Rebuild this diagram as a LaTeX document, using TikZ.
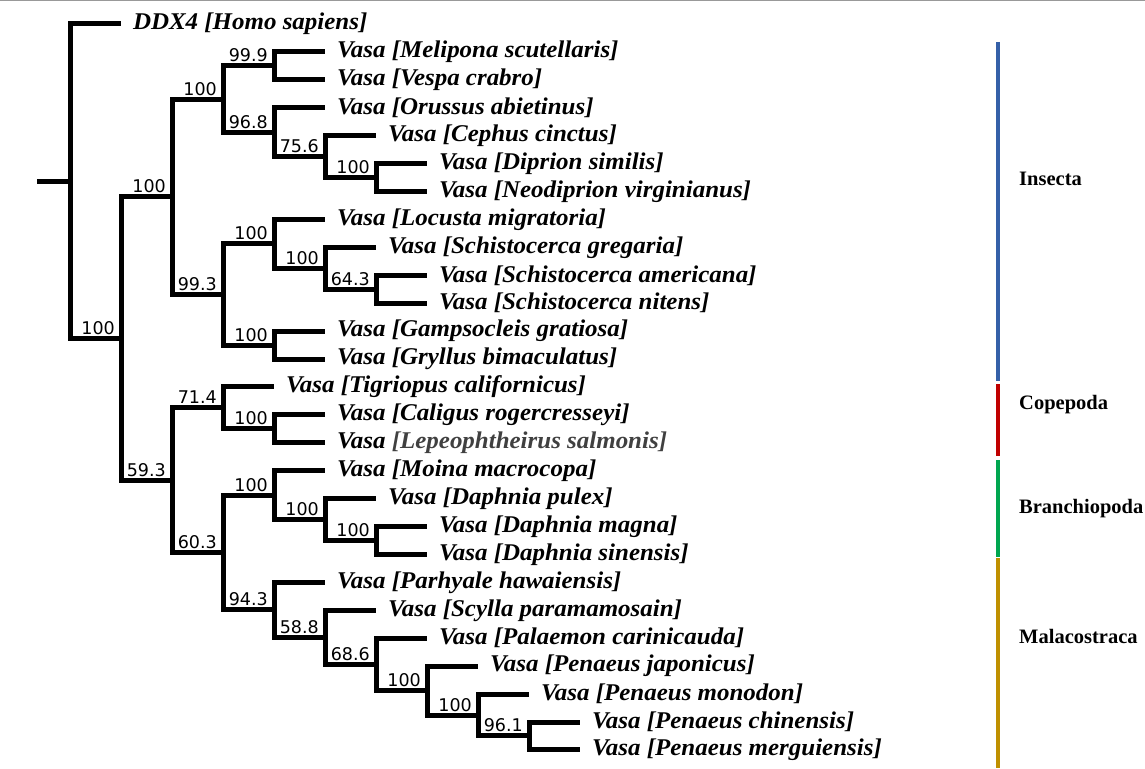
\documentclass[tikz,border=0pt]{standalone}
\usepackage{fontspec}
\usepackage{tikz}
\newfontfamily\taxfont[FakeStretch=1.04]{Liberation Serif}
\newfontfamily\bootfont{DejaVu Sans}
\newfontfamily\cladefont{Liberation Serif}
\definecolor{insectblue}{HTML}{3560A8}
\definecolor{copered}{HTML}{C00000}
\definecolor{branchgreen}{HTML}{00A650}
\definecolor{malagold}{HTML}{BF9000}
\definecolor{lepgray}{HTML}{404040}

\begin{document}
\begin{tikzpicture}[x=1pt,y=-1pt,
    branch/.style={line width=5pt},
    taxon/.style={anchor=west,inner xsep=12pt,inner ysep=0pt,outer sep=0pt,
        font=\taxfont\bfseries\itshape\fontsize{24}{28}\selectfont},
    boot/.style={anchor=base east,inner sep=0pt,font=\bootfont\fontsize{17.5}{20}\selectfont},
    clade/.style={anchor=base west,inner sep=0pt,font=\cladefont\bfseries\fontsize{20.5}{24}\selectfont},
    bar/.style={line width=3.5pt}]
    \useasboundingbox (0,0) rectangle (1145,768);
    \draw[gray!80,line width=1.5pt] (0,0.75) -- (1145,0.75);

    % internal nodes
    \coordinate (base) at (37,181.24);
    \coordinate (root) at (70,181.24);
    \coordinate (ingr) at (121,338.48);
    \coordinate (ins) at (172,196.76);
    \coordinate (hym) at (223,99.04);
    \coordinate (n999) at (274,65.88);
    \coordinate (n968) at (274,132.19);
    \coordinate (n756) at (325,156.62);
    \coordinate (ndip) at (376,177.56);
    \coordinate (orth) at (223,294.48);
    \coordinate (nloc) at (274,243.87);
    \coordinate (nsch) at (325,268.30);
    \coordinate (n643) at (376,289.24);
    \coordinate (ngam) at (274,345.08);
    \coordinate (crus) at (172,480.21);
    \coordinate (cope) at (223,407.90);
    \coordinate (ncal) at (274,428.84);
    \coordinate (n603) at (223,552.52);
    \coordinate (bran) at (274,495.15);
    \coordinate (ndap) at (325,519.58);
    \coordinate (nmag) at (376,540.52);
    \coordinate (mala) at (274,609.88);
    \coordinate (n588) at (325,637.37);
    \coordinate (n686) at (376,664.42);
    \coordinate (njap) at (427,690.59);
    \coordinate (nmon) at (478,715.02);
    \coordinate (n961) at (529,735.96);

    % leaves
    \foreach \n/\x/\y/\t in {
        ddx/121/24.00/{DDX4 [Homo sapiens]},
        mel/325/51.92/{Vasa [Melipona scutellaris]},
        ves/325/79.84/{Vasa [Vespa crabro]},
        oru/325/107.76/{Vasa [Orussus abietinus]},
        cep/376/135.68/{Vasa [Cephus cinctus]},
        dip/427/163.60/{Vasa [Diprion similis]},
        neo/427/191.52/{Vasa [Neodiprion virginianus]},
        loc/325/219.44/{Vasa [Locusta migratoria]},
        sgr/376/247.36/{Vasa [Schistocerca gregaria]},
        sam/427/275.28/{Vasa [Schistocerca americana]},
        sni/427/303.20/{Vasa [Schistocerca nitens]},
        gam/325/331.12/{Vasa [Gampsocleis gratiosa]},
        gry/325/359.04/{Vasa [Gryllus bimaculatus]},
        tig/274/386.96/{Vasa [Tigriopus californicus]},
        cal/325/414.88/{Vasa [Caligus rogercresseyi]},
        lep/325/442.80/{Vasa {\color{lepgray}[Lepeophtheirus salmonis]}},
        moi/325/470.72/{Vasa [Moina macrocopa]},
        pul/376/498.64/{Vasa [Daphnia pulex]},
        mag/427/526.56/{Vasa [Daphnia magna]},
        sin/427/554.48/{Vasa [Daphnia sinensis]},
        par/325/582.40/{Vasa [Parhyale hawaiensis]},
        scy/376/610.32/{Vasa [Scylla paramamosain]},
        pal/427/638.24/{Vasa [Palaemon carinicauda]},
        jap/478/666.16/{Vasa [Penaeus japonicus]},
        mon/529/694.08/{Vasa [Penaeus monodon]},
        chi/580/722.00/{Vasa [Penaeus chinensis]},
        mer/580/749.92/{Vasa [Penaeus merguiensis]}}
        \node[taxon] (\n) at (\x,\y) {\t};

    % branches
    \draw[branch] (base) -- (root);
    \foreach \p/\c in {root/ddx, root/ingr, ingr/ins, ingr/crus, ins/hym, ins/orth,
        hym/n999, hym/n968, n999/mel, n999/ves, n968/oru, n968/n756, n756/cep,
        n756/ndip, ndip/dip, ndip/neo, orth/nloc, orth/ngam, nloc/loc, nloc/nsch,
        nsch/sgr, nsch/n643, n643/sam, n643/sni, ngam/gam, ngam/gry, crus/cope,
        crus/n603, cope/tig, cope/ncal, ncal/cal, ncal/lep, n603/bran, n603/mala,
        bran/moi, bran/ndap, ndap/pul, ndap/nmag, nmag/mag, nmag/sin, mala/par,
        mala/n588, n588/scy, n588/n686, n686/pal, n686/njap, njap/jap, njap/nmon,
        nmon/mon, nmon/n961, n961/chi, n961/mer}
        \draw[branch] (\p) |- (\c);

    % bootstrap values
    \foreach \n/\v in {ingr/100, ins/100, hym/100, n999/99.9, n968/96.8, n756/75.6,
        ndip/100, orth/99.3, nloc/100, nsch/100, n643/64.3, ngam/100, crus/59.3,
        cope/71.4, ncal/100, n603/60.3, bran/100, ndap/100, nmag/100, mala/94.3,
        n588/58.8, n686/68.6, njap/100, nmon/100, n961/96.1}
        \node[boot] (b\n) at ([xshift=-6pt,yshift=4pt]\n) {\v};

    % clades
    \draw[bar,insectblue] (998,42) -- (998,381);
    \draw[bar,copered] (998,384) -- (998,456);
    \draw[bar,branchgreen] (998,460) -- (998,557);
    \draw[bar,malagold] (998,558) -- (998,768);
    \node[clade] (lins) at (1019,185) {Insecta};
    \node[clade] (lcop) at (1019,409) {Copepoda};
    \node[clade] (lbra) at (1019,513) {Branchiopoda};
    \node[clade] (lmal) at (1019,643) {Malacostraca};
\end{tikzpicture}
\end{document}
